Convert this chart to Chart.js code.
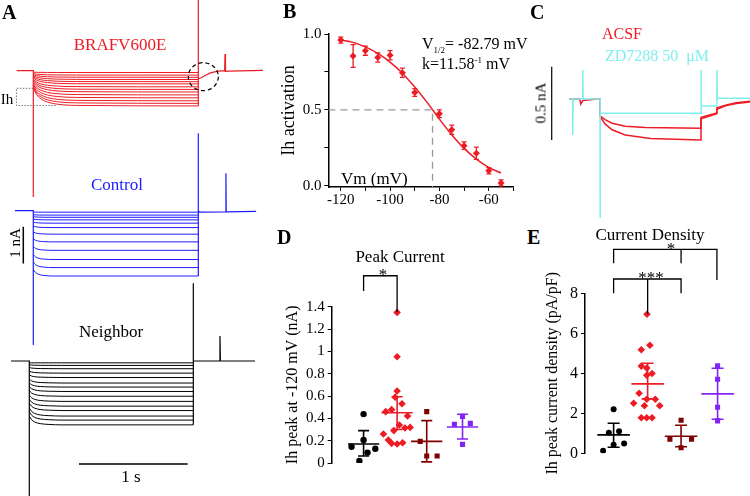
<!DOCTYPE html>
<html>
<head>
<meta charset="utf-8">
<script src="https://cdn.jsdelivr.net/npm/chart.js@4.4.1/dist/chart.umd.min.js"></script>
<style>
    body { margin: 0; width: 750px; height: 496px; background: #fff; position: relative; overflow: hidden;
           font-family: 'Liberation Serif', 'Times New Roman', serif; color: #000; }
    canvas { position: absolute; }
    .t { position: absolute; white-space: nowrap; line-height: 1; transform: translate(-50%, -50%); }
    .l { position: absolute; white-space: nowrap; line-height: 1; }
    .r { position: absolute; white-space: nowrap; line-height: 1; transform: translate(-50%, -50%) rotate(-90deg); }
    .p { position: absolute; font-weight: bold; font-size: 20px; line-height: 1; }
    sub, sup { font-size: 9px; }
</style>
</head>
<body>
<canvas id="aBraf" width="270" height="200" style="left:0px;top:0px"></canvas>
<canvas id="aCtrl" width="270" height="220" style="left:0px;top:130px"></canvas>
<canvas id="aNbr" width="270" height="216" style="left:0px;top:280px"></canvas>
<canvas id="bAct" width="242" height="195" style="left:278px;top:20px"></canvas>
<canvas id="cZd" width="220" height="160" style="left:530px;top:60px"></canvas>
<canvas id="dPeak" width="212" height="210" style="left:283px;top:265px"></canvas>
<canvas id="eDens" width="207" height="250" style="left:543px;top:240px"></canvas>

<div class="p" style="left:2px;top:2px">A</div>
<div class="p" style="left:283px;top:1px">B</div>
<div class="p" style="left:530px;top:2px">C</div>
<div class="p" style="left:277px;top:227px">D</div>
<div class="p" style="left:527px;top:227px">E</div>

<div class="t" style="left:120px;top:44px;font-size:17px;color:#ed1c24">BRAFV600E</div>
<div class="t" style="left:117px;top:184px;font-size:17px;color:#1c1cff">Control</div>
<div class="t" style="left:111px;top:331px;font-size:17px">Neighbor</div>
<div class="t" style="left:131px;top:476px;font-size:17px">1 s</div>
<div class="r" style="left:15px;top:243px;font-size:15px">1 nA</div>
<div class="t" style="left:7px;top:99px;font-size:15px">Ih</div>

<div class="l" style="left:422px;top:36px;font-size:16px">V<sub>1/2</sub>= -82.79 mV</div>
<div class="l" style="left:422px;top:56px;font-size:16px">k=11.58<sup>-1</sup> mV</div>
<div class="l" style="left:341px;top:170px;font-size:17px">Vm (mV)</div>

<div class="t" style="left:622px;top:34px;font-size:16px;color:#ed1c24">ACSF</div>
<div class="t" style="left:657px;top:56px;font-size:16px;color:#80eef0">ZD7288 50&nbsp; μM</div>
<div class="r" style="left:541px;top:103px;font-size:15px">0.5 nA</div>

<div class="t" style="left:400px;top:256px;font-size:17px">Peak Current</div>
<div class="t" style="left:383px;top:274px;font-size:17px">*</div>
<div class="t" style="left:650px;top:234px;font-size:17px">Current Density</div>
<div class="t" style="left:671px;top:248px;font-size:17px">*</div>
<div class="t" style="left:651px;top:277px;font-size:17px">***</div>

<script>
// ---- A: current traces (time in s, current in nA) ----
const brafTimes = [0, 0.03, 0.07, 0.13, 0.22, 0.4, 1.518];
const brafTraces = [
    [-0.04, -0.044, -0.046, -0.048, -0.049, -0.05, -0.05],
    [-0.08, -0.094, -0.104, -0.111, -0.116, -0.119, -0.12],
    [-0.11, -0.135, -0.152, -0.165, -0.173, -0.178, -0.18],
    [-0.14, -0.175, -0.2, -0.218, -0.23, -0.237, -0.24],
    [-0.17, -0.216, -0.248, -0.271, -0.287, -0.296, -0.3],
    [-0.2, -0.256, -0.296, -0.325, -0.344, -0.355, -0.36],
    [-0.24, -0.31, -0.36, -0.396, -0.42, -0.434, -0.44],
    [-0.27, -0.354, -0.414, -0.457, -0.486, -0.503, -0.51],
    [-0.3, -0.398, -0.468, -0.518, -0.552, -0.572, -0.58],
    [-0.34, -0.452, -0.532, -0.59, -0.628, -0.65, -0.66],
    [-0.38, -0.506, -0.596, -0.661, -0.704, -0.729, -0.74],
    [-0.42, -0.56, -0.66, -0.732, -0.78, -0.808, -0.82],
    [-0.45, -0.604, -0.714, -0.793, -0.846, -0.877, -0.89],
    [-0.48, -0.648, -0.768, -0.854, -0.912, -0.946, -0.96]
];
const brafFrameT = [-0.153, 0, 0, 0, 1.518, 1.518, 1.518, 1.518, 1.54, 1.58, 1.63, 1.7, 1.76, 1.764, 1.768, 1.8, 2.113];
const brafFrameI = [0, 0, -3.44, null, -0.96, 1.926, null, -0.22, -0.2, -0.13, -0.06, -0.01, 0, 0.455, -0.02, -0.01, 0.01];
const brafIhBoxT = [0, -0.155, -0.155, 0.21];
const brafIhBoxI = [-0.48, -0.48, -0.95, -0.95];
const brafCircle = [1.564, -0.163];

const ctrlTimes = [0, 0.02, 0.05, 0.1, 0.2, 1.518];
const ctrlTraces = [
    [-0.04, -0.04, -0.04, -0.04, -0.04, -0.04],
    [-0.11, -0.115, -0.118, -0.119, -0.12, -0.12],
    [-0.165, -0.172, -0.176, -0.179, -0.18, -0.18],
    [-0.23, -0.239, -0.245, -0.248, -0.25, -0.25],
    [-0.31, -0.324, -0.333, -0.338, -0.34, -0.34],
    [-0.42, -0.438, -0.45, -0.457, -0.46, -0.46],
    [-0.58, -0.607, -0.625, -0.635, -0.64, -0.64],
    [-0.77, -0.806, -0.83, -0.844, -0.85, -0.85],
    [-0.98, -1.025, -1.055, -1.072, -1.08, -1.08],
    [-1.2, -1.259, -1.298, -1.32, -1.33, -1.33],
    [-1.4, -1.468, -1.513, -1.538, -1.55, -1.55],
    [-1.6, -1.681, -1.735, -1.766, -1.78, -1.78]
];
const ctrlFrameT = [-0.168, 0, 0, 0, 1.518, 1.518, 1.518, 1.518, 1.53, 1.77, 1.772, 1.775, 2.05];
const ctrlFrameI = [0, 0, -3.66, null, -1.78, 2.11, null, 0, -0.04, -0.03, 1.02, -0.03, -0.02];
const nAbarT = [-0.092, -0.092];
const nAbarI = [-0.436, -1.436];

const nbrTimes = [0, 0.02, 0.05, 0.1, 0.18, 0.3, 1.509];
const nbrTraces = [
    [-0.05, -0.05, -0.05, -0.05, -0.05, -0.05, -0.05],
    [-0.105, -0.111, -0.115, -0.118, -0.119, -0.12, -0.12],
    [-0.18, -0.192, -0.2, -0.206, -0.208, -0.21, -0.21],
    [-0.28, -0.3, -0.314, -0.323, -0.328, -0.33, -0.33],
    [-0.38, -0.408, -0.428, -0.44, -0.446, -0.45, -0.45],
    [-0.5, -0.54, -0.568, -0.586, -0.595, -0.6, -0.6],
    [-0.6, -0.644, -0.675, -0.695, -0.705, -0.71, -0.71],
    [-0.7, -0.752, -0.788, -0.812, -0.824, -0.83, -0.83],
    [-0.81, -0.87, -0.912, -0.939, -0.953, -0.96, -0.96],
    [-0.93, -0.998, -1.046, -1.076, -1.092, -1.1, -1.1],
    [-1.04, -1.116, -1.169, -1.203, -1.22, -1.23, -1.23],
    [-1.15, -1.23, -1.286, -1.322, -1.34, -1.35, -1.35],
    [-1.28, -1.368, -1.43, -1.469, -1.489, -1.5, -1.5],
    [-1.38, -1.472, -1.536, -1.578, -1.599, -1.61, -1.61],
    [-1.5, -1.596, -1.663, -1.706, -1.728, -1.74, -1.74]
];
const nbrFrameT = [-0.168, 0, 0, 0, 1.509, 1.509, 1.509, 1.509, 1.75, 1.754, 1.758, 2.076];
const nbrFrameI = [0, 0, -3.7, null, -1.74, 2.117, null, 0, 0, 0.68, 0, 0];
const secBarT = [0.457, 1.457];
const secBarI = [-2.807, -2.807];

// ---- B: activation curve ----
const bVm = [-120, -115, -110, -105, -100, -95, -90, -80, -75, -70, -65, -60, -55];
const bAct = [0.96, 0.855, 0.89, 0.845, 0.86, 0.745, 0.615, 0.475, 0.37, 0.265, 0.215, 0.10, 0.02];
const bErr = [0.02, 0.075, 0.03, 0.03, 0.03, 0.03, 0.025, 0.025, 0.03, 0.025, 0.04, 0.02, 0.02];
const bFitVm = [-120, -115, -110, -105, -100, -95, -90, -85, -80, -75, -70, -65, -60, -55];
const bFitAct = [0.96, 0.945, 0.915, 0.872, 0.815, 0.742, 0.651, 0.55, 0.44, 0.337, 0.247, 0.177, 0.122, 0.085];
const bHalf = -82.79;
const bXTicks = [-120, -110, -100, -90, -80, -70, -60, -50];
const bYTicks = [0, 0.25, 0.5, 0.75, 1];

// ---- C: ACSF vs ZD7288 ----
const zdT = [-0.307, -0.27, -0.27, -0.266, -0.171, -0.171, -0.167, 0, 0, 0.004, 1.0, 1.0, 1.004, 1.157, 1.157, 1.161, 1.485];
const zdI = [0, 0, -0.245, 0, 0, 0.198, 0, 0, -0.81, -0.097, -0.097, 0.198, -0.048, -0.048, 0.198, 0.005, 0.005];
const acsf1T = [-0.307, -0.2, -0.19, -0.17, -0.03, 0, 0, 0.05, 0.12, 0.25, 0.45, 1.0, 1.0, 1.157, 1.157, 1.25, 1.35, 1.485];
const acsf1I = [0, 0, -0.035, -0.01, 0, 0, -0.115, -0.14, -0.165, -0.185, -0.195, -0.2, -0.125, -0.095, -0.06, -0.04, -0.025, -0.015];
const acsf2T = [0, 0.05, 0.12, 0.25, 0.5, 1.0, 1.0, 1.157, 1.157, 1.25, 1.35, 1.485];
const acsf2I = [-0.12, -0.17, -0.21, -0.245, -0.27, -0.28, -0.135, -0.1, -0.07, -0.045, -0.03, -0.02];
const cBarT = [-0.478, -0.478];
const cBarI = [0.22, -0.28];

// ---- D: peak current (nA) ----
const dBlackX = [0.98, 0.61, 0.98, 1.34, 1.10, 0.85];
const dBlackY = [0.438, 0.146, 0.206, 0.128, 0.093, 0.018];
const dRedX = [2.01, 2.01, 2.01, 1.95, 2.16, 1.66, 1.84, 2.33, 1.91, 2.08, 2.25, 2.41, 1.59, 1.74, 1.84, 2.01, 2.18];
const dRedY = [1.349, 0.952, 0.645, 0.59, 0.531, 0.46, 0.478, 0.421, 0.29, 0.34, 0.313, 0.319, 0.26, 0.206, 0.176, 0.17, 0.182];
const dDredX = [2.92, 2.72, 2.92, 3.24];
const dDredY = [0.46, 0.194, 0.063, 0.063];
const dPurpX = [4.02, 3.77, 4.26, 4.02];
const dPurpY = [0.418, 0.346, 0.355, 0.167];
const dCenter = [0.98, 2.01, 2.92, 4.02];
const dMean = [0.17, 0.45, 0.194, 0.322];
const dLow = [0.063, 0.30, 0.01, 0.215];
const dHigh = [0.29, 0.594, 0.38, 0.436];
const dBracketX = [0.98, 0.98, 2.01, 2.01];
const dBracketY = [1.54, 1.677, 1.677, 1.35];

// ---- E: current density (pA/pF) ----
const eBlackX = [0.995, 0.854, 1.156, 0.995, 1.305, 0.685];
const eBlackY = [2.2, 1.03, 1.1, 0.43, 0.49, 0.13];
const eRedX = [1.981, 1.812, 2.066, 1.812, 1.973, 2.13, 1.973, 1.747, 1.587, 1.973, 2.226, 1.905, 2.356, 1.812, 1.973, 2.13];
const eRedY = [6.95, 5.18, 5.4, 4.36, 4.26, 3.99, 3.9, 3.0, 2.5, 2.7, 2.7, 2.38, 2.38, 1.78, 1.78, 1.78];
const eDredX = [2.987, 2.657, 3.296, 2.987];
const eDredY = [1.65, 0.7, 0.7, 0.28];
const ePurpX = [4.065, 4.065, 4.065, 4.065];
const ePurpY = [4.37, 3.7, 2.3, 1.62];
const eCenter = [0.995, 2.0, 2.987, 4.065];
const eMean = [0.92, 3.47, 0.85, 2.97];
const eLow = [0.3, 2.72, 0.33, 1.7];
const eHigh = [1.5, 4.5, 1.4, 4.25];
const eLowBracketX = [0.995, 0.995, 2.987, 2.987];
const eLowBracketY = [8.0, 8.715, 8.715, 8.0];
const eStemX = [2.0, 2.0];
const eStemY = [8.715, 6.97];
const eUpBracketX = [0.995, 0.995, 4.046, 4.046];
const eUpBracketY = [9.5, 10.2, 10.2, 8.665];
const eMidLegX = [2.987, 2.987];
const eMidLegY = [10.2, 9.5];

const RED = '#ed1c24', BLUE = '#1c1cff', CYAN = '#80eef0', DRED = '#7f0000', PURPLE = '#8224f5';

Chart.defaults.font.family = "'Liberation Serif', 'Times New Roman', serif";
Chart.defaults.color = '#000';

function xy(xs, ys) {
    return xs.map((x, i) => ({x: x, y: ys[i]}));
}

function line(data, color, width, extra) {
    return Object.assign({
        data: data, borderColor: color, backgroundColor: color, borderWidth: width,
        pointRadius: 0, showLine: true, fill: false, spanGaps: false
    }, extra || {});
}

function traceSets(times, rows, color) {
    return rows.map((r) => line(xy(times, r), color, 1, {cubicInterpolationMode: 'monotone'}));
}

function traceChart(id, xr, yr, datasets, plugins) {
    return new Chart(document.getElementById(id), {
        type: 'scatter',
        data: {datasets: datasets},
        options: {
            responsive: false, animation: false, events: [],
            layout: {padding: 0},
            plugins: {legend: {display: false}, tooltip: {enabled: false}},
            scales: {
                x: {type: 'linear', display: false, min: xr[0], max: xr[1]},
                y: {type: 'linear', display: false, min: yr[0], max: yr[1]}
            }
        },
        plugins: plugins || []
    });
}

const circlePlugin = {
    id: 'zoomCircle',
    afterDatasetsDraw(chart) {
        const {ctx, scales: {x, y}} = chart;
        ctx.save();
        ctx.strokeStyle = '#000';
        ctx.lineWidth = 1.2;
        ctx.setLineDash([4, 3]);
        ctx.beginPath();
        ctx.ellipse(x.getPixelForValue(brafCircle[0]), y.getPixelForValue(brafCircle[1]), 15, 14, 0, 0, Math.PI * 2);
        ctx.stroke();
        ctx.restore();
    }
};

traceChart('aBraf', [-0.3063, 2.1775], [-3.523, 1.926], [
    ...traceSets(brafTimes, brafTraces, RED),
    line(xy(brafFrameT, brafFrameI), RED, 1.2),
    line(xy(brafIhBoxT, brafIhBoxI), '#777', 1, {borderDash: [1.5, 1.5]})
], [circlePlugin]);

traceChart('aCtrl', [-0.3063, 2.1775], [-3.796, 2.199], [
    ...traceSets(ctrlTimes, ctrlTraces, BLUE),
    line(xy(ctrlFrameT, ctrlFrameI), BLUE, 1.2),
    line(xy(nAbarT, nAbarI), '#000', 1.5)
]);

traceChart('aNbr', [-0.2695, 2.2144], [-3.678, 2.207], [
    ...traceSets(nbrTimes, nbrTraces, '#000'),
    line(xy(nbrFrameT, nbrFrameI), '#000', 1.2),
    line(xy(secBarT, secBarI), '#000', 1.5)
]);

traceChart('cZd', [-0.693, 1.485], [-0.825, 0.266], [
    line(xy(zdT, zdI), CYAN, 1.5),
    line(xy(acsf1T, acsf1I), RED, 1.5),
    line(xy(acsf2T, acsf2I), RED, 1.5),
    line(xy(cBarT, cBarI), '#000', 1.2)
]);

// error bar data: low/high pairs separated by gaps
function errorData(xs, lows, highs) {
    const out = [];
    xs.forEach((x, i) => {
        out.push({x: x, y: lows[i]}, {x: x, y: highs[i]}, {x: x, y: null});
    });
    return out;
}

function axisGrid(len) {
    return {display: true, drawOnChartArea: false, drawTicks: true, tickLength: len, color: '#000', lineWidth: 1};
}

// B
const bErrData = errorData(bVm, bAct.map((a, i) => a - bErr[i]), bAct.map((a, i) => a + bErr[i]));
new Chart(document.getElementById('bAct'), {
    type: 'scatter',
    data: {datasets: [
        line(xy([-125, bHalf, bHalf], [0.5, 0.5, -0.007]), '#999', 1.3, {borderDash: [7, 5]}),
        line(xy(bFitVm, bFitAct), RED, 1.5, {cubicInterpolationMode: 'monotone'}),
        line(bErrData, RED, 1.3, {pointStyle: 'line', pointRadius: 2.5, pointBorderWidth: 1.3, pointBorderColor: RED}),
        {data: xy(bVm, bAct), showLine: false, pointStyle: 'rectRot', pointRadius: 3.5,
         backgroundColor: RED, borderColor: RED, pointBorderWidth: 0}
    ]},
    options: {
        responsive: false, animation: false, events: [],
        layout: {padding: {left: 0, top: 14, right: 6.6, bottom: 0}},
        plugins: {legend: {display: false}, tooltip: {enabled: false}},
        scales: {
            x: {
                type: 'linear', min: -125, max: -50,
                afterBuildTicks: (s) => { s.ticks = bXTicks.map((v) => ({value: v})); },
                afterFit: (s) => { s.height = 28; },
                ticks: {callback: (v) => (v % 20 === 0 ? String(v) : ''), font: {size: 15}, padding: 0,
                        maxRotation: 0, autoSkip: false},
                grid: axisGrid(4),
                border: {color: '#000', width: 1.5}
            },
            y: {
                type: 'linear', min: -0.007, max: 1,
                afterBuildTicks: (s) => { s.ticks = bYTicks.map((v) => ({value: v})); },
                afterFit: (s) => { s.width = 50.4; },
                ticks: {callback: (v) => (v === 0 || v === 0.5 || v === 1 ? v.toFixed(1) : ''), font: {size: 15}, padding: 3},
                title: {display: true, text: 'Ih activation', font: {size: 18}, padding: 0},
                grid: axisGrid(4),
                border: {color: '#000', width: 1.5}
            }
        }
    }
});

// D and E: scatter with mean and error bars
function groupSets(groups, center, mean, low, high, capR) {
    const sets = [];
    groups.forEach((g) => {
        sets.push({data: xy(g.x, g.y), showLine: false, pointStyle: g.style, pointRadius: g.r,
                   backgroundColor: g.color, borderColor: g.color, pointBorderWidth: 0});
    });
    groups.forEach((g, i) => {
        sets.push(line(xy([center[i] - 0.48, center[i] + 0.48], [mean[i], mean[i]]), g.color, 1.6));
        sets.push(line(errorData([center[i]], [low[i]], [high[i]]), g.color, 1.6,
            {pointStyle: 'line', pointRadius: capR, pointBorderWidth: 1.6, pointBorderColor: g.color}));
    });
    return sets;
}

function dotChart(id, xr, yr, padding, axisWidth, yOpts, datasets) {
    return new Chart(document.getElementById(id), {
        type: 'scatter',
        data: {datasets: datasets},
        options: {
            responsive: false, animation: false, events: [],
            layout: {padding: padding},
            plugins: {legend: {display: false}, tooltip: {enabled: false}},
            scales: {
                x: {type: 'linear', display: false, min: xr[0], max: xr[1]},
                y: Object.assign({
                    type: 'linear', min: yr[0], max: yr[1],
                    afterFit: (s) => { s.width = axisWidth; },
                    grid: axisGrid(4),
                    border: {color: '#000', width: 1.5}
                }, yOpts)
            }
        }
    });
}

dotChart('dPeak', [0, 4.8], [0, 1.4], {left: 0, top: 41.7, right: 0, bottom: 11.7}, 48.7, {
    ticks: {stepSize: 0.2, callback: (v) => String(Math.round(v * 10) / 10), font: {size: 15}, padding: 3},
    title: {display: true, text: 'Ih peak at -120 mV (nA)', font: {size: 16}, padding: 0}
}, [
    line(xy(dBracketX, dBracketY), '#000', 1.3, {clip: false}),
    ...groupSets([
        {x: dBlackX, y: dBlackY, color: '#000', style: 'circle', r: 3.2},
        {x: dRedX, y: dRedY, color: RED, style: 'rectRot', r: 3.8},
        {x: dDredX, y: dDredY, color: DRED, style: 'rect', r: 3.6},
        {x: dPurpX, y: dPurpY, color: PURPLE, style: 'rect', r: 3.6}
    ], dCenter, dMean, dLow, dHigh, 5.5)
]);

dotChart('eDens', [0.15, 4.798], [0, 8], {left: 0, top: 53.3, right: 0, bottom: 36.7}, 42, {
    ticks: {stepSize: 1, callback: (v) => (v % 2 === 0 ? String(v) : ''), font: {size: 16}, padding: 3},
    title: {display: true, text: 'Ih peak current density (pA/pF)', font: {size: 16}, padding: 0}
}, [
    line(xy(eLowBracketX, eLowBracketY), '#000', 1.3, {clip: false}),
    line(xy(eStemX, eStemY), '#000', 1.3, {clip: false}),
    line(xy(eUpBracketX, eUpBracketY), '#000', 1.3, {clip: false}),
    line(xy(eMidLegX, eMidLegY), '#000', 1.3, {clip: false}),
    ...groupSets([
        {x: eBlackX, y: eBlackY, color: '#000', style: 'circle', r: 3},
        {x: eRedX, y: eRedY, color: RED, style: 'rectRot', r: 3.8},
        {x: eDredX, y: eDredY, color: DRED, style: 'rect', r: 3.6},
        {x: ePurpX, y: ePurpY, color: PURPLE, style: 'rect', r: 3.6}
    ], eCenter, eMean, eLow, eHigh, 6)
]);
</script>
</body>
</html>
